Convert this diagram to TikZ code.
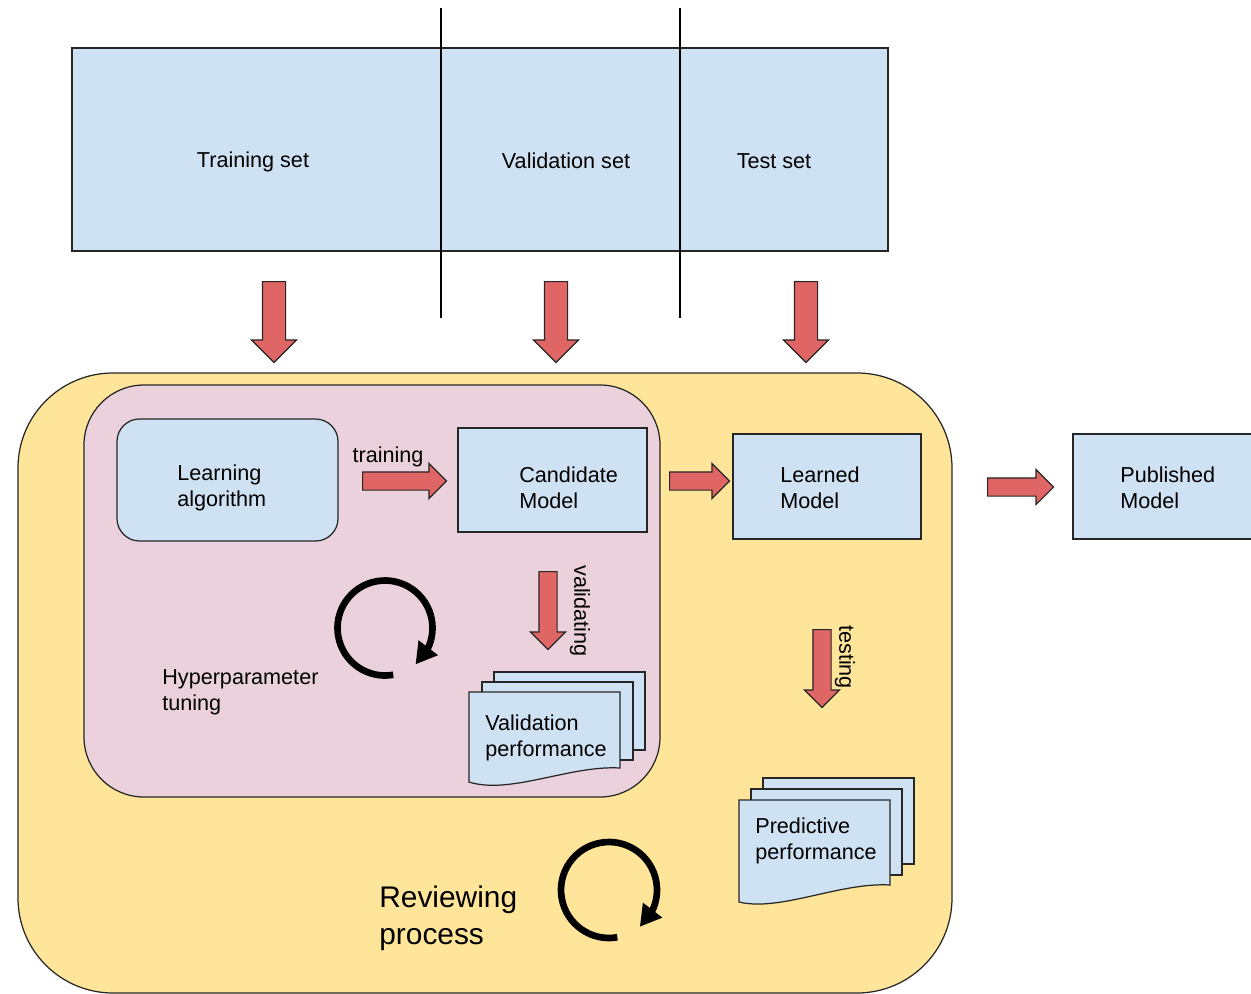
\documentclass[tikz,border=0pt]{standalone}
\usepackage{fontspec}
\setmainfont{Liberation Sans}
\usepackage{tikz}
\usetikzlibrary{positioning,arrows.meta,bending,shapes.arrows,fit}
\definecolor{setblue}{HTML}{CFE2F3}
\definecolor{reviewyellow}{HTML}{FFE599}
\definecolor{tunepink}{HTML}{EAD1DC}
\definecolor{arrowred}{HTML}{E06666}

\begin{document}
\begin{tikzpicture}[x=0.02cm, y=-0.02cm,
    box/.style={draw=black!85, line width=0.7pt, fill=setblue, inner sep=0pt},
    txt/.style={font=\fontsize{12.3}{14.7}\selectfont, align=left, inner sep=0pt},
    bigarrow/.style={single arrow, draw=black!85, fill=arrowred, line width=0.7pt,
        inner sep=0pt, inner ysep=0.22cm, single arrow head extend=0.22cm,
        minimum height=1.62cm, rotate=-90, anchor=tail},
    smallarrow/.style={single arrow, draw=black!85, fill=arrowred, line width=0.7pt,
        inner sep=0pt, inner ysep=0.17cm, single arrow head extend=0.17cm, anchor=tail},
    sheet/.style={draw=black!85, line width=0.7pt, fill=setblue},
    cyclearrow/.style={line width=3.8pt, -{Triangle[length=0.42cm,width=0.46cm,flex]}}]
    \useasboundingbox (0,0) rectangle (1251,994);

    % Data split
    \node[box, fit={(72,48) (888,251)}] (split) {};
    \node[txt] (train) at (253,162) {Training set};
    \node[txt] (valid) at (566,161) {Validation set};
    \node[txt] (test) at (774,161) {Test set};
    \coordinate (cutA top) at (441,8);
    \coordinate (cutA bot) at (441,318);
    \coordinate (cutB top) at (680,8);
    \coordinate (cutB bot) at (680,318);
    \draw[line width=0.9pt] (cutA top) -- (cutA bot);
    \draw[line width=0.9pt] (cutB top) -- (cutB bot);
    \node[bigarrow] (intrain) at (274,281) {};
    \node[bigarrow] (invalid) at (556,281) {};
    \node[bigarrow] (intest) at (806,281) {};

    % Reviewing process
    \node[box, fill=reviewyellow, rounded corners=1.9cm, fit={(18,373) (952,993)}] (review) {};
    \node[box, fill=tunepink, rounded corners=1.2cm, fit={(84,385) (660,797)}] (tuning) {};

    % Hyperparameter tuning
    \node[box, rounded corners=0.45cm, fit={(117,419) (338,541)}] (algo) {};
    \node[txt, anchor=west] (algotxt) at (177,488) {Learning\\algorithm};
    \node[txt] (trainlbl) at (388,457) {training};
    \node[smallarrow, minimum height=1.68cm] (trainarr) at (362,481) {};
    \node[box, fit={(458,428) (647,532)}] (cand) {};
    \node[txt, anchor=west] (candtxt) at (519,488) {Candidate\\Model};
    \node[smallarrow, minimum height=1.56cm, rotate=-90] (validarr) at (548,571) {};
    \node[txt, rotate=-90] (validlbl) at (580,611) {validating};
    \draw[sheet] (494,672) rectangle (645,750);
    \draw[sheet] (482,682) rectangle (633,760);
    \draw[sheet] (469,692) -- (620,692) -- (620,768)
        .. controls (570,765) and (510,795) .. (469,782) -- cycle;
    \node[txt, anchor=west] (valperf) at (485,738) {Validation\\performance};
    \draw[cyclearrow] (385,628) ++(-80:0.95cm) arc[start angle=-80, end angle=-410, radius=0.95cm];
    \node[txt, anchor=west] (hyper) at (162,692) {Hyperparameter\\tuning};

    % Learned and published model
    \node[smallarrow, minimum height=1.2cm] (learnarr) at (669,481) {};
    \node[box, fit={(733,434) (921,539)}] (learned) {};
    \node[txt, anchor=west] (learntxt) at (780,488) {Learned\\Model};
    \node[smallarrow, minimum height=1.32cm] (pubarr) at (987,487) {};
    \node[box, fit={(1073,434) (1265,539)}] (pub) {};
    \node[txt, anchor=west] (pubtxt) at (1120,488) {Published\\Model};

    % Testing
    \node[smallarrow, minimum height=1.56cm, rotate=-90] (testarr) at (822,629) {};
    \node[txt, rotate=-90] (testlbl) at (845,657) {testing};
    \draw[sheet] (763,778) rectangle (914,864);
    \draw[sheet] (751,789) rectangle (902,875);
    \draw[sheet] (739,800) -- (890,800) -- (890,885)
        .. controls (840,882) and (780,912) .. (739,902) -- cycle;
    \node[txt, anchor=west] (predperf) at (755,841) {Predictive\\performance};
    \draw[cyclearrow] (609,890) ++(-80:0.96cm) arc[start angle=-80, end angle=-410, radius=0.96cm];
    \node[txt, anchor=west, font=\fontsize{17}{21}\selectfont] (revtxt) at (379,918) {Reviewing\\process};
\end{tikzpicture}
\end{document}
